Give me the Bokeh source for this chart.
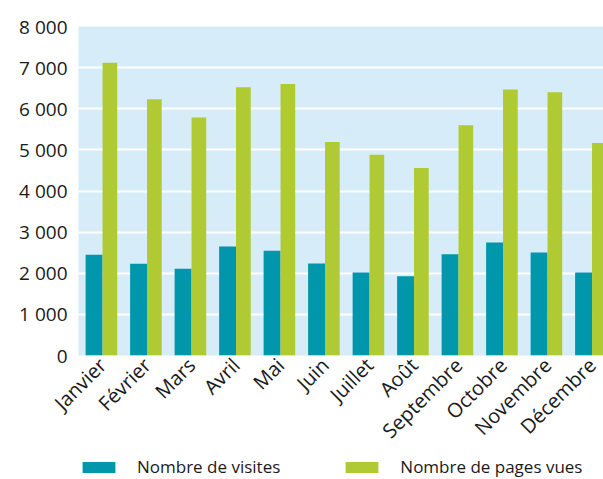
import math
from bokeh.plotting import figure
from bokeh.layouts import column
from bokeh.models import (Range1d, FixedTicker, Legend, LegendItem, ColumnDataSource)
from bokeh.embed import file_html
from bokeh.resources import INLINE

months = ["Janvier", "Février", "Mars", "Avril", "Mai", "Juin", "Juillet", "Août",
          "Septembre", "Octobre", "Novembre", "Décembre"]
visites = [2450, 2230, 2110, 2650, 2550, 2240, 2020, 1925, 2460, 2750, 2505, 2020]
pages_vues = [7120, 6230, 5790, 6520, 6600, 5190, 4880, 4560, 5600, 6470, 6400, 5165]
y_ticks = [0, 1000, 2000, 3000, 4000, 5000, 6000, 7000, 8000]
y_labels = ["0", "1 000", "2 000", "3 000", "4 000", "5 000", "6 000", "7 000", "8 000"]
series_names = ["Nombre de visites", "Nombre de pages vues"]

FONT = "Open Sans"
TEAL = "#0096ab"
GREEN = "#b0ca33"
BG = "#d6ecf8"

xs = list(range(len(months)))
src = ColumnDataSource(dict(
    x=xs,
    xv=[i - 0.19 for i in xs],
    xp=[i + 0.165 for i in xs],
    v=visites, pv=pages_vues))

p = figure(width=603, height=456, output_backend="svg", toolbar_location=None,
           x_range=Range1d(-0.54, -0.54 + 525 / 44.5), y_range=Range1d(0, 8000),
           min_border_left=78, min_border_right=0, min_border_top=26, min_border_bottom=100)
p.outline_line_color = None
p.background_fill_color = BG
p.border_fill_color = "white"

rv = p.vbar(x="xv", top="v", width=0.38, source=src, color=TEAL, line_color=None)
rp = p.vbar(x="xp", top="pv", width=0.33, source=src, color=GREEN, line_color=None)

p.xgrid.grid_line_color = None
p.ygrid.grid_line_color = "white"
p.ygrid.grid_line_width = 2
p.ygrid.ticker = FixedTicker(ticks=y_ticks)

p.yaxis.ticker = FixedTicker(ticks=y_ticks)
p.yaxis.major_label_overrides = {t: l for t, l in zip(y_ticks, y_labels)}
p.yaxis.axis_line_color = None
p.yaxis.major_tick_line_color = None
p.yaxis.minor_tick_line_color = None
p.yaxis.major_label_text_font = FONT
p.yaxis.major_label_text_font_size = "19px"
p.yaxis.major_label_text_color = "#1a1a1a"
p.yaxis.major_label_standoff = 5

p.xaxis.ticker = FixedTicker(ticks=xs)
p.xaxis.major_label_overrides = {i: m for i, m in zip(xs, months)}
p.xaxis.axis_line_color = None
p.xaxis.major_tick_line_color = None
p.xaxis.minor_tick_line_color = None
p.xaxis.major_label_orientation = math.pi / 4
p.xaxis.major_label_text_font = FONT
p.xaxis.major_label_text_font_size = "20px"
p.xaxis.major_label_text_color = "#1a1a1a"
p.xaxis.major_label_standoff = 0

# legend figure below
lf = figure(width=603, height=23, output_backend="svg", toolbar_location=None,
            x_range=Range1d(0, 1), y_range=Range1d(0, 1),
            x_axis_location=None, y_axis_location=None,
            min_border_left=0, min_border_right=0, min_border_top=0, min_border_bottom=0)
lf.grid.visible = False
lf.outline_line_color = None
lf.background_fill_color = "white"
lsrc = ColumnDataSource(dict(x=[5], top=[1]))
lv = lf.vbar(x="x", top="top", width=0.1, source=lsrc, color=TEAL, line_color=None)
lp = lf.vbar(x="x", top="top", width=0.1, source=lsrc, color=GREEN, line_color=None)

lg = Legend(items=[LegendItem(label=series_names[0], renderers=[lv]),
                   LegendItem(label=series_names[1], renderers=[lp])],
            location=(0, 1), orientation="horizontal",
            background_fill_alpha=0, border_line_color=None,
            glyph_width=41, glyph_height=14, label_standoff=18, spacing=61,
            padding=0, margin=0,
            label_text_font=FONT, label_text_font_size="17px", label_text_color="#1a1a1a")
lf.add_layout(lg, "center")

open("out.html", "w").write(file_html(column(p, lf, spacing=0), INLINE))
